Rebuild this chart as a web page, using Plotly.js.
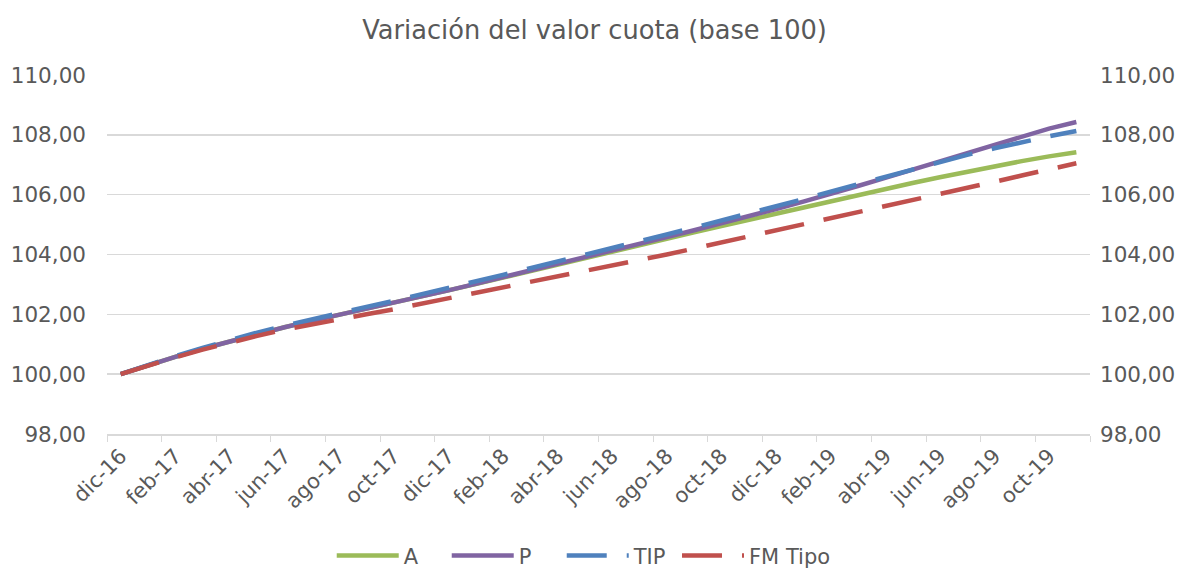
<!DOCTYPE html>
<html>
<head>
<meta charset="utf-8">
<script src="https://cdn.plot.ly/plotly-3.0.1.min.js"></script>
<style>html,body{margin:0;padding:0;background:#fff;}#chart{width:1189px;height:570px;}</style>
</head>
<body>
<div id="chart"></div>
<script>
var months = ["dic-16","ene-17","feb-17","mar-17","abr-17","may-17","jun-17","jul-17","ago-17","sep-17","oct-17","nov-17",
  "dic-17","ene-18","feb-18","mar-18","abr-18","may-18","jun-18","jul-18","ago-18","sep-18","oct-18","nov-18",
  "dic-18","ene-19","feb-19","mar-19","abr-19","may-19","jun-19","jul-19","ago-19","sep-19","oct-19","nov-19"];

var serieA = [100.00,100.30,100.58,100.85,101.10,101.34,101.57,101.78,101.98,102.17,102.37,102.58,
  102.80,103.01,103.23,103.44,103.66,103.87,104.10,104.32,104.53,104.74,104.95,105.16,
  105.37,105.58,105.79,105.99,106.19,106.39,106.58,106.77,106.95,107.12,107.28,107.42];

var serieP = [100.00,100.30,100.58,100.85,101.10,101.34,101.57,101.78,101.98,102.17,102.37,102.58,
  102.80,103.02,103.24,103.45,103.67,103.89,104.12,104.35,104.58,104.81,105.04,105.28,
  105.52,105.77,106.02,106.29,106.56,106.84,107.12,107.40,107.68,107.96,108.21,108.43];

var serieTIP = [100.00,100.31,100.60,100.88,101.14,101.39,101.62,101.84,102.05,102.25,102.45,102.66,
  102.88,103.10,103.32,103.54,103.76,103.98,104.21,104.44,104.67,104.90,105.13,105.37,
  105.61,105.85,106.10,106.35,106.61,106.86,107.10,107.33,107.55,107.76,107.95,108.13];

var serieFM = [100.00,100.29,100.56,100.82,101.06,101.28,101.49,101.67,101.84,102.00,102.17,102.35,
  102.53,102.71,102.89,103.07,103.25,103.44,103.62,103.81,104.00,104.20,104.40,104.60,
  104.80,105.00,105.20,105.40,105.61,105.82,106.02,106.22,106.43,106.64,106.85,107.05];

var names = ["A","P","TIP","FM Tipo"];
var colors = ["#9BBB59","#8064A2","#4F81BD","#C0504D"];

var txt = "#595959";
var fontFam = "DejaVu Sans, Verdana, sans-serif";

var traces = [
  {x: months, y: serieA, name: names[0], type: "scatter", mode: "lines", line: {color: colors[0], width: 4.5}},
  {x: months, y: serieP, name: names[1], type: "scatter", mode: "lines", line: {color: colors[1], width: 4.5}},
  {x: months, y: serieTIP, name: names[2], type: "scatter", mode: "lines", line: {color: colors[2], width: 4.5, dash: "40px,20px"}},
  {x: months, y: serieFM, name: names[3], type: "scatter", mode: "lines", legend: "legend2", line: {color: colors[3], width: 4.5, dash: "40px,20px"}},
  {x: months, y: serieP, yaxis: "y2", type: "scatter", mode: "lines", line: {width: 0}, opacity: 0, showlegend: false, hoverinfo: "skip"}
];

var legendFont = {family: fontFam, size: 21, color: txt};

var layout = {
  width: 1189, height: 570,
  paper_bgcolor: "#ffffff", plot_bgcolor: "#ffffff",
  separators: ",.",
  font: {family: fontFam, color: txt, size: 21},
  margin: {l: 107, r: 99, t: 75, b: 136},
  title: {text: "Variación del valor cuota (base 100)", font: {family: fontFam, size: 25.7, color: txt},
    x: 0.5, xanchor: "center", y: 0.947, yanchor: "middle"},
  showlegend: true,
  legend: {orientation: "h", xref: "container", yref: "container", x: 0.279, xanchor: "left",
    y: 0.025, yanchor: "middle", entrywidth: 38, entrywidthmode: "pixels",
    font: legendFont, itemwidth: 62, traceorder: "normal"},
  legend2: {orientation: "h", xref: "container", yref: "container", x: 0.5694, xanchor: "left",
    y: 0.025, yanchor: "middle",
    font: legendFont, itemwidth: 62, traceorder: "normal"},
  xaxis: {
    type: "category", range: [-0.5, 35.5], dtick: 2, tickangle: -45, automargin: false,
    tickson: "boundaries", ticks: "outside", ticklen: 6, tickcolor: "#D9D9D9",
    showline: true, linecolor: "#D9D9D9", linewidth: 1.5, showgrid: false, zeroline: false,
    tickfont: {family: fontFam, size: 21, color: txt}, fixedrange: true
  },
  yaxis: {
    range: [98, 110], dtick: 2, tickformat: ".2f", showgrid: true, gridcolor: "#D9D9D9", gridwidth: 1.5,
    zeroline: false, showline: false, ticks: "", ticklen: 0, automargin: false, ticklabelstandoff: 20,
    tickfont: {family: fontFam, size: 21.5, color: txt}
  },
  yaxis2: {
    range: [98, 110], dtick: 2, tickformat: ".2f", overlaying: "y", side: "right", anchor: "x",
    showgrid: false, zeroline: false, showline: false, ticks: "", automargin: false, ticklabelstandoff: 9,
    tickfont: {family: fontFam, size: 21.5, color: txt}
  }
};

Plotly.newPlot("chart", traces, layout, {displayModeBar: false, staticPlot: true});
</script>
</body>
</html>
